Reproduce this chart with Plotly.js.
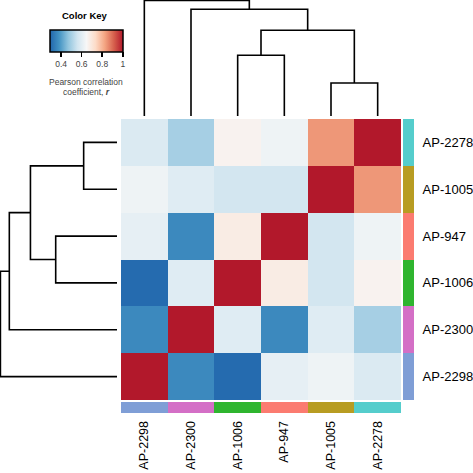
<!DOCTYPE html>
<html>
<head>
<meta charset="utf-8">
<script src="https://cdn.plot.ly/plotly-3.0.1.min.js"></script>
<style>
html,body{margin:0;padding:0;background:#fff;}
#chart{width:473px;height:473px;}
</style>
</head>
<body>
<div id="chart"></div>
<script>
// Sample order (bottom->top for rows, left->right for columns)
const samples = ["AP-2298", "AP-2300", "AP-1006", "AP-947", "AP-1005", "AP-2278"];
// Pearson correlation rows (same order as samples)
const r_AP2298 = [1.00, 0.36, 0.30, 0.605, 0.625, 0.58];
const r_AP2300 = [0.36, 1.00, 0.59, 0.36, 0.59, 0.495];
const r_AP1006 = [0.30, 0.59, 1.00, 0.68, 0.56, 0.66];
const r_AP947  = [0.605, 0.36, 0.68, 1.00, 0.56, 0.625];
const r_AP1005 = [0.625, 0.59, 0.56, 0.56, 1.00, 0.84];
const r_AP2278 = [0.58, 0.495, 0.66, 0.625, 0.84, 1.00];
// Side colours per sample
const sideColors = ["#7f9ed6", "#d46fc6", "#2fb52f", "#fb7b70", "#b89c22", "#55cdcc"];
// Dendrogram merges: [left, right, height]; negative = leaf index (1-based), positive = earlier merge
const merges = [
  [-5, -6, 0.161],
  [-3, -4, 0.296],
  [2, 1, 0.418],
  [-2, 3, 0.520],
  [-1, 4, 0.563]
];
// Colour key ticks
const keyTicks = [0.4, 0.6, 0.8, 1];
const keyTickText = ["0.4", "0.6", "0.8", "1"];
const zMin = 0.29, zMax = 1.0;

const z = [r_AP2298, r_AP2300, r_AP1006, r_AP947, r_AP1005, r_AP2278];
const idx = samples.map((s, i) => i);

const rdbu = ["#2166AC","#4393C3","#92C5DE","#D1E5F0","#F7F7F7","#FDDBC7","#F4A582","#D6604D","#B2182B"];
const colorscale = rdbu.map((c, i) => [i / (rdbu.length - 1), c]);

// Build dendrogram segments from merges
function dendro(merges) {
  const pos = [], hts = [];
  const segs = [];
  function get(k) {
    if (k < 0) return {p: -k - 1, h: 0};
    return {p: pos[k - 1], h: hts[k - 1]};
  }
  merges.forEach(m => {
    const a = get(m[0]), b = get(m[1]), h = m[2];
    segs.push([[a.p, a.h], [a.p, h], [b.p, h], [b.p, b.h]]);
    pos.push((a.p + b.p) / 2);
    hts.push(h);
  });
  return segs;
}
const segs = dendro(merges);
const topX = [], topY = [], leftX = [], leftY = [];
segs.forEach(s => {
  s.forEach(pt => { topX.push(pt[0]); topY.push(pt[1]); leftY.push(pt[0]); leftX.push(pt[1]); });
  topX.push(null); topY.push(null); leftX.push(null); leftY.push(null);
});

const W = 473, H = 473;
const px = v => v / W;
const py = v => 1 - v / H;

const font = "Liberation Sans, Arial, Helvetica, sans-serif";

const traces = [
  {
    type: "heatmap", z: z, x: idx, y: idx,
    colorscale: colorscale, zmin: zMin, zmax: zMax,
    xaxis: "x", yaxis: "y",
    hoverinfo: "skip",
    colorbar: {
      orientation: "h",
      x: px(86.3), xanchor: "center",
      y: py(30), yanchor: "top",
      lenmode: "pixels", len: 73,
      thickness: 22, thicknessmode: "pixels",
      xpad: 0, ypad: 0,
      outlinewidth: 1.5, outlinecolor: "#000",
      ticks: "outside", ticklen: 5, tickwidth: 1.5, tickcolor: "#000",
      tickvals: keyTicks, ticktext: keyTickText,
      tickfont: {family: font, size: 8.5, color: "#444"},
      title: {text: ""}
    }
  },
  {
    type: "bar", orientation: "h",
    y: idx, x: samples.map(() => 1), width: 1,
    marker: {color: sideColors, line: {width: 0}},
    xaxis: "x2", yaxis: "y", hoverinfo: "skip", showlegend: false
  },
  {
    type: "bar",
    x: idx, y: samples.map(() => 1), width: 1,
    marker: {color: sideColors, line: {width: 0}},
    xaxis: "x", yaxis: "y2", hoverinfo: "skip", showlegend: false
  },
  {
    type: "scatter", mode: "lines",
    x: topX, y: topY,
    line: {color: "#000", width: 1.6},
    xaxis: "x", yaxis: "y3", hoverinfo: "skip", showlegend: false
  },
  {
    type: "scatter", mode: "lines",
    x: leftX, y: leftY,
    line: {color: "#000", width: 1.6},
    xaxis: "x3", yaxis: "y", hoverinfo: "skip", showlegend: false
  }
];

const hx = [px(121), px(401)];
const hy = [py(400), py(119)];
const hide = {showgrid: false, zeroline: false, showline: false, showticklabels: false, ticks: ""};

const layout = {
  width: W, height: H,
  margin: {l: 0, r: 0, t: 0, b: 0},
  paper_bgcolor: "#fff", plot_bgcolor: "rgba(0,0,0,0)",
  showlegend: false,
  bargap: 0,
  font: {family: font, color: "#000"},
  xaxis: {
    domain: hx, range: [-0.5, 5.5], anchor: "free", position: py(413),
    tickvals: idx, ticktext: samples, tickangle: -90,
    ticks: "outside", ticklen: 2, tickcolor: "rgba(0,0,0,0)",
    tickfont: {family: font, size: 12.5, color: "#000"},
    showgrid: false, zeroline: false, showline: false, fixedrange: true
  },
  yaxis: {
    domain: hy, range: [-0.5, 5.5], anchor: "free", position: px(414), side: "right",
    tickvals: idx, ticktext: samples,
    ticks: "outside", ticklen: 5, tickcolor: "rgba(0,0,0,0)",
    tickfont: {family: font, size: 13, color: "#000"},
    showgrid: false, zeroline: false, showline: false, fixedrange: true
  },
  xaxis2: Object.assign({domain: [px(403), px(414)], range: [0, 1], anchor: "y"}, hide),
  yaxis2: Object.assign({domain: [py(413), py(402)], range: [0, 1], anchor: "x"}, hide),
  yaxis3: Object.assign({domain: [py(116), 1], range: [0, 0.565], anchor: "x"}, hide),
  xaxis3: Object.assign({domain: [0, px(117)], range: [0.565, 0], anchor: "y"}, hide),
  annotations: [
    {text: "<b>Color Key</b>", xref: "paper", yref: "paper", x: px(85), y: py(15),
     xanchor: "center", yanchor: "middle", showarrow: false,
     font: {family: font, size: 9.5, color: "#000"}},
    {text: "Pearson correlation", xref: "paper", yref: "paper", x: px(86), y: py(82),
     xanchor: "center", yanchor: "middle", showarrow: false,
     font: {family: font, size: 8.5, color: "#444"}},
    {text: "coefficient, <b><i>r</i></b>", xref: "paper", yref: "paper", x: px(86), y: py(92),
     xanchor: "center", yanchor: "middle", showarrow: false,
     font: {family: font, size: 8.5, color: "#444"}}
  ]
};

Plotly.newPlot("chart", traces, layout, {staticPlot: true, displayModeBar: false});
</script>
</body>
</html>
